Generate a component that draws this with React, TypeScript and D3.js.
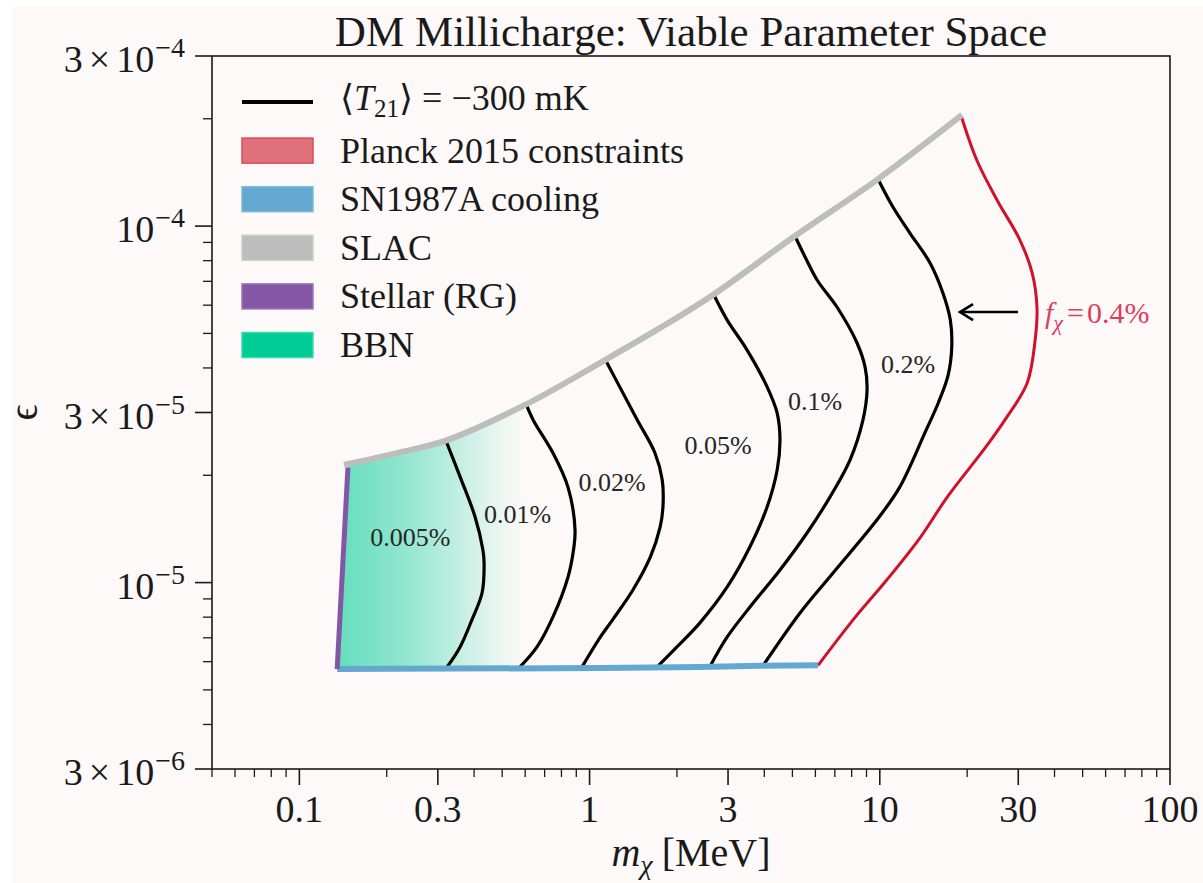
import React from "react";
import * as d3 from "d3";

type Pt = [number, number];

// ---- axes ----
const massDomain: Pt = [0.05, 100];
const epsDomain: Pt = [3e-6, 3e-4];
const massTicks = [0.1, 0.3, 1, 3, 10, 30, 100];
const massTickLabels = ["0.1", "0.3", "1", "3", "10", "30", "100"];
const epsTicks = [3e-4, 1e-4, 3e-5, 1e-5, 3e-6];
const epsTickMantissa = ["3", "", "3", "", "3"];
const epsTickExponent = ["−4", "−4", "−5", "−5", "−6"];

// ---- legend ----
const legendLabels = [
  "T21",
  "Planck 2015 constraints",
  "SN1987A cooling",
  "SLAC",
  "Stellar (RG)",
  "BBN",
];

// ---- constraint boundaries (m_chi [MeV], epsilon) ----
const slacBound: Pt[] = [
  [0.1425, 2.14e-5], [0.222, 2.32e-5], [0.323, 2.51e-5], [0.599, 3.15e-5],
  [1.13, 4.21e-5], [1.75, 5.18e-5], [2.66, 6.41e-5], [5.10, 9.38e-5],
  [9.86, 1.355e-4], [19.2, 2.05e-4],
];
const sn1987aBound: Pt[] = [
  [0.135, 5.72e-6], [1.09, 5.76e-6], [2.40, 5.80e-6], [3.87, 5.84e-6], [6.13, 5.86e-6],
];
const stellarBound: Pt[] = [
  [0.135, 5.72e-6], [0.147, 2.10e-5],
];
const planckBound: Pt[] = [
  [19.1, 2.03e-4], [21.6, 1.53e-4], [25.4, 1.18e-4], [30.4, 9.14e-5], [33.5, 7.39e-5],
  [34.8, 5.93e-5], [34.3, 4.79e-5], [32.2, 3.63e-5], [27.0, 2.86e-5], [23.1, 2.39e-5],
  [17.1, 1.74e-5], [13.8, 1.34e-5], [10.6, 1.02e-5], [8.09, 7.86e-6],
  [6.13, 5.86e-6],
];

// ---- <T21> = -300 mK contours for each DM fraction ----
const contour0005: Pt[] = [
  [0.320, 2.50e-5], [0.358, 1.98e-5], [0.403, 1.53e-5], [0.429, 1.235e-5], [0.433, 1.135e-5],
  [0.426, 9.35e-6], [0.393, 7.86e-6], [0.358, 6.60e-6], [0.323, 5.80e-6],
];
const contour001: Pt[] = [
  [0.604, 3.17e-5], [0.639, 2.86e-5], [0.748, 2.31e-5], [0.843, 1.85e-5], [0.891, 1.405e-5],
  [0.877, 1.21e-5], [0.843, 1.037e-5], [0.748, 8.01e-6], [0.659, 6.60e-6], [0.576, 5.80e-6],
];
const contour002: Pt[] = [
  [1.13, 4.24e-5], [1.27, 3.54e-5], [1.46, 2.86e-5], [1.68, 2.31e-5], [1.78, 1.94e-5],
  [1.79, 1.63e-5], [1.75, 1.43e-5], [1.62, 1.18e-5], [1.41, 9.53e-6], [1.20, 7.86e-6],
  [1.09, 7.04e-6], [0.942, 5.80e-6],
];
const contour005: Pt[] = [
  [2.66, 6.49e-5], [2.98, 5.45e-5], [3.49, 4.49e-5], [4.09, 3.54e-5], [4.43, 2.99e-5],
  [4.53, 2.51e-5], [4.43, 2.07e-5], [4.09, 1.63e-5], [3.57, 1.26e-5], [2.98, 9.72e-6],
  [2.40, 7.71e-6], [2.00, 6.60e-6], [1.71, 5.80e-6],
];
const contour01: Pt[] = [
  [5.10, 9.38e-5], [5.53, 8.19e-5], [6.08, 7.06e-5], [7.12, 5.93e-5], [8.35, 4.70e-5],
  [8.90, 4.02e-5], [9.04, 3.47e-5], [8.75, 2.86e-5], [7.90, 2.21e-5], [6.74, 1.74e-5],
  [5.62, 1.38e-5], [4.53, 1.085e-5], [3.57, 8.54e-6], [2.98, 7.04e-6], [2.60, 5.82e-6],
];
const contour02: Pt[] = [
  [9.86, 1.356e-4], [11.1, 1.131e-4], [12.7, 9.56e-5], [14.9, 7.88e-5], [16.5, 6.49e-5],
  [17.5, 5.45e-5], [17.7, 4.58e-5], [17.2, 3.82e-5], [15.9, 3.19e-5], [14.3, 2.63e-5],
  [11.7, 1.85e-5], [9.78, 1.50e-5], [6.90, 1.064e-5], [5.31, 8.22e-6], [3.96, 5.85e-6],
];
const contours = [contour0005, contour001, contour002, contour005, contour01, contour02];
const contourNames = ["0.005%", "0.01%", "0.02%", "0.05%", "0.1%", "0.2%"];
const contourLabelAnchors: Pt[] = [
  [0.241, 1.342e-5], [0.565, 1.557e-5], [1.195, 1.915e-5],
  [2.771, 2.432e-5], [5.982, 3.231e-5], [12.51, 4.103e-5],
];
const planckFraction = "0.4%";
const planckLabelAnchor: Pt = [37.1, 5.705e-5];
const arrowFrom: Pt = [29.95, 5.74e-5];
const arrowTo: Pt = [18.9, 5.74e-5];

// ---- styling ----
const SERIF = "'Liberation Serif', 'DejaVu Serif', serif";
const BG = "#fcf9f8";
const INK = "#1a1a1a";
const C_PLANCK = "#d0112b";
const C_PLANCK_TXT = "#dc3f5d";
const C_SN = "#64a8d0";
const C_SLAC = "#bdbdbd";
const C_STELLAR = "#8456a6";
const C_BBN = "#00cc96";

const W = 1203;
const H = 883;
const PLOT = { left: 212, right: 1170, top: 56, bottom: 769 };

function near(a: number, b: number) {
  return Math.abs(Math.log10(a) - Math.log10(b)) < 1e-6;
}

export default function App() {
  const x = d3.scaleLog().domain(massDomain).range([PLOT.left, PLOT.right]);
  const y = d3.scaleLog().domain(epsDomain).range([PLOT.bottom, PLOT.top]);

  const smooth = d3
    .line<Pt>()
    .x((d) => x(d[0]))
    .y((d) => y(d[1]))
    .curve(d3.curveCatmullRom.alpha(0.5));
  const straight = d3
    .line<Pt>()
    .x((d) => x(d[0]))
    .y((d) => y(d[1]));

  const xMinor = x.ticks().filter((t) => !massTicks.some((m) => near(m, t)));
  const yMinor = y.ticks().filter((t) => !epsTicks.some((m) => near(m, t)));

  // BBN region: bounded by the stellar line, the SLAC curve and the SN1987A floor
  const slacLeft = slacBound.filter((d) => d[0] < 0.65);
  const slacLeftPath = (smooth(slacLeft) || "").replace(/^M/, "L");
  const bbnEnd = slacLeft[slacLeft.length - 1];
  const bbnPath =
    `M${x(stellarBound[0][0])},${y(stellarBound[0][1])}` +
    `L${x(stellarBound[1][0])},${y(stellarBound[1][1])}` +
    slacLeftPath +
    `L${x(bbnEnd[0])},${y(sn1987aBound[0][1])}Z`;

  const ax0 = x(arrowFrom[0]);
  const ax1 = x(arrowTo[0]);
  const ay = y(arrowTo[1]);

  const legendX0 = 242;
  const legendX1 = 313;
  const legendTextX = 340;
  const legendRowY = (i: number) => 102 + i * 48.6;
  const patchColors = [
    { fill: "#e0707b", stroke: "#d94b5b" },
    { fill: C_SN, stroke: "#7fb9dc" },
    { fill: C_SLAC, stroke: "#cdcdcd" },
    { fill: C_STELLAR, stroke: "#9a76b8" },
    { fill: C_BBN, stroke: "#3fd9b0" },
  ];

  return (
    <div style={{ position: "absolute", left: 0, top: 0, width: W, height: H }}>
      <svg width={W} height={H} style={{ display: "block" }} fontFamily={SERIF}>
        <defs>
          <linearGradient
            id="bbnFade"
            gradientUnits="userSpaceOnUse"
            x1={x(stellarBound[0][0])}
            x2={x(bbnEnd[0])}
            y1={0}
            y2={0}
          >
            <stop offset="0" stopColor={C_BBN} stopOpacity={0.6} />
            <stop offset="0.3" stopColor={C_BBN} stopOpacity={0.46} />
            <stop offset="0.6" stopColor={C_BBN} stopOpacity={0.26} />
            <stop offset="0.85" stopColor={C_BBN} stopOpacity={0.08} />
            <stop offset="1" stopColor={C_BBN} stopOpacity={0} />
          </linearGradient>
        </defs>
        <rect x={0} y={0} width={W} height={H} fill="#ffffff" />
        <rect x={12} y={6} width={W - 12} height={H - 6} fill={BG} />

        {/* title */}
        <text x={(PLOT.left + PLOT.right) / 2} y={46} textAnchor="middle" fontSize={43} fill={INK}>
          DM Millicharge: Viable Parameter Space
        </text>

        {/* BBN shaded region */}
        <path d={bbnPath} fill="url(#bbnFade)" stroke="none" />

        {/* T21 contours */}
        {contours.map((c, i) => (
          <path key={i} d={smooth(c) || ""} fill="none" stroke="#000" strokeWidth={3.2} />
        ))}

        {/* Planck boundary */}
        <path d={smooth(planckBound) || ""} fill="none" stroke={C_PLANCK} strokeWidth={3} />

        {/* SLAC, SN1987A, stellar */}
        <path d={smooth(slacBound) || ""} fill="none" stroke={C_SLAC} strokeWidth={6} />
        <path d={straight(sn1987aBound) || ""} fill="none" stroke={C_SN} strokeWidth={6} />
        <path d={straight(stellarBound) || ""} fill="none" stroke={C_STELLAR} strokeWidth={5} />

        {/* contour labels */}
        {contourNames.map((name, i) => (
          <text
            key={name}
            x={x(contourLabelAnchors[i][0])}
            y={y(contourLabelAnchors[i][1])}
            dy="0.35em"
            textAnchor="middle"
            fontSize={26}
            fill="#262626"
          >
            {name}
          </text>
        ))}

        {/* Planck fraction annotation */}
        <line x1={ax0} y1={ay} x2={ax1 + 1} y2={ay} stroke="#000" strokeWidth={2.6} />
        <path
          d={`M${ax1 + 13},${ay - 8}L${ax1},${ay}L${ax1 + 13},${ay + 8}`}
          fill="none"
          stroke="#000"
          strokeWidth={2.6}
        />
        <text
          x={x(planckLabelAnchor[0])}
          y={y(planckLabelAnchor[1])}
          dy="0.35em"
          fontSize={30}
          fill={C_PLANCK_TXT}
        >
          <tspan fontStyle="italic">f</tspan>
          <tspan fontStyle="italic" fontSize={22} dy={7}>χ</tspan>
          <tspan dy={-7} dx={4}>=</tspan>
          <tspan dx={3}>{planckFraction}</tspan>
        </text>

        {/* spines */}
        <rect
          x={PLOT.left}
          y={PLOT.top}
          width={PLOT.right - PLOT.left}
          height={PLOT.bottom - PLOT.top}
          fill="none"
          stroke={INK}
          strokeWidth={1.6}
        />

        {/* x ticks */}
        {massTicks.map((t, i) => (
          <g key={"xm" + i}>
            <line x1={x(t)} x2={x(t)} y1={PLOT.bottom} y2={PLOT.bottom + 16} stroke={INK} strokeWidth={1.6} />
            <text x={x(t)} y={PLOT.bottom + 53} textAnchor="middle" fontSize={38} fill={INK}>
              {massTickLabels[i]}
            </text>
          </g>
        ))}
        {xMinor.map((t, i) => (
          <line key={"xn" + i} x1={x(t)} x2={x(t)} y1={PLOT.bottom} y2={PLOT.bottom + 8} stroke={INK} strokeWidth={1.3} />
        ))}

        {/* y ticks */}
        {epsTicks.map((t, i) => (
          <g key={"ym" + i}>
            <line x1={PLOT.left - 17} x2={PLOT.left} y1={y(t)} y2={y(t)} stroke={INK} strokeWidth={1.6} />
            <text x={PLOT.left - 27} y={y(t) + 16} textAnchor="end" fontSize={38} fill={INK}>
              {epsTickMantissa[i] ? <tspan>{epsTickMantissa[i]}</tspan> : null}
              {epsTickMantissa[i] ? <tspan dx={6}>×</tspan> : null}
              <tspan dx={epsTickMantissa[i] ? 6 : 0}>10</tspan>
              <tspan fontSize={28} dy={-15} dx={1}>{epsTickExponent[i]}</tspan>
            </text>
          </g>
        ))}
        {yMinor.map((t, i) => (
          <line key={"yn" + i} x1={PLOT.left - 9} x2={PLOT.left} y1={y(t)} y2={y(t)} stroke={INK} strokeWidth={1.3} />
        ))}

        {/* axis labels */}
        <text x={(PLOT.left + PLOT.right) / 2} y={866} textAnchor="middle" fontSize={40} fill={INK}>
          <tspan fontStyle="italic">m</tspan>
          <tspan fontStyle="italic" fontSize={28} dy={8}>χ</tspan>
          <tspan dy={-8} dx={9}>[MeV]</tspan>
        </text>
        <text
          transform={`translate(37,${(PLOT.top + PLOT.bottom) / 2}) rotate(-90)`}
          textAnchor="middle"
          fontSize={40}
          fill={INK}
        >
          ϵ
        </text>

        {/* legend */}
        <line x1={legendX0} x2={legendX1} y1={legendRowY(0)} y2={legendRowY(0)} stroke="#000" strokeWidth={4} />
        <text x={legendTextX} y={legendRowY(0) + 8} fontSize={36} fill={INK}>
          <tspan>⟨</tspan>
          <tspan fontStyle="italic">T</tspan>
          <tspan fontSize={25} dy={7}>21</tspan>
          <tspan dy={-7}>⟩ = −300 mK</tspan>
        </text>
        {legendLabels.slice(1).map((lab, k) => {
          const i = k + 1;
          const cy = legendRowY(i);
          return (
            <g key={lab}>
              <rect
                x={legendX0}
                y={cy - 12.5}
                width={legendX1 - legendX0}
                height={25}
                fill={patchColors[k].fill}
                stroke={patchColors[k].stroke}
                strokeWidth={1.5}
              />
              <text x={legendTextX} y={cy + 12} fontSize={36} fill={INK}>
                {lab}
              </text>
            </g>
          );
        })}
      </svg>
    </div>
  );
}
